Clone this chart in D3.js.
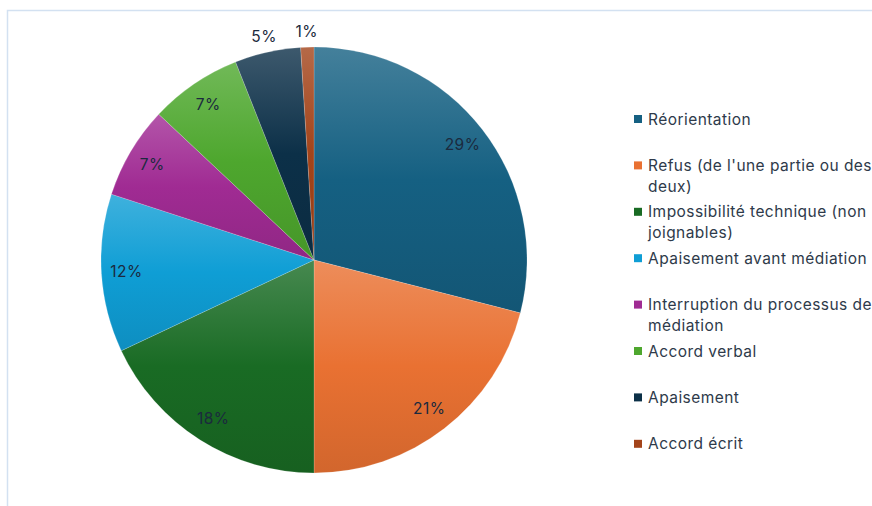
<!DOCTYPE html>
<meta charset="utf-8">
<style>
body { margin: 0; background: #fff; font-family: 'Inter', sans-serif; }
</style>
<body>
<svg class="piechart"></svg>
<script src="https://d3js.org/d3.v7.min.js"></script>
<script>
// canvas size
let rwidth = 872, rheight = 506;

// categories and shares (%)
let categories = ['Réorientation',
                  "Refus (de l'une partie ou des\ndeux)",
                  'Impossibilité technique (non\njoignables)',
                  'Apaisement avant médiation',
                  'Interruption du processus de\nmédiation',
                  'Accord verbal',
                  'Apaisement',
                  'Accord écrit'];
let shares = [29, 21, 18, 12, 7, 7, 5, 1];
let colorCode = ['#156082','#E97132','#196B24','#0F9ED5','#A02B93','#4EA72E','#0c3048','#a3441a'];

let cx = 314, cy = 260, radius = 213;

let svg = d3.select('.piechart')
            .attr('width', rwidth)
            .attr('height', rheight);

// chart frame (light blue border, partly off screen)
svg.append('rect')
   .attr('x', 7.5).attr('y', 10.5)
   .attr('width', 1000).attr('height', 1000)
   .attr('fill', 'none')
   .attr('stroke', '#d3e1f1')
   .attr('stroke-width', 1.5);

let data = categories.map((c, i) => ({name: c, value: shares[i]}));
let color = d3.scaleOrdinal().domain(categories).range(colorCode);

// vertical gradient per slice, lighter at top
let defs = svg.append('defs');
data.forEach((d, i) => {
    let base = color(d.name);
    let g = defs.append('linearGradient')
        .attr('id', 'grad' + i)
        .attr('x1', 0).attr('y1', 0).attr('x2', 0).attr('y2', 1);
    g.append('stop').attr('offset', '0%').attr('stop-color', d3.interpolateRgb(base, '#fff')(0.2));
    g.append('stop').attr('offset', '50%').attr('stop-color', base);
    g.append('stop').attr('offset', '100%').attr('stop-color', d3.interpolateRgb(base, '#000')(0.1));
});

let pie = d3.pie().sort(null).value(d => d.value);
let arc = d3.arc().innerRadius(0).outerRadius(radius);
let inLabel = d3.arc().innerRadius(188).outerRadius(188);
let outLabel = d3.arc().innerRadius(229).outerRadius(229);

let arcs = pie(data);

let g = svg.append('g').attr('transform', `translate(${cx},${cy})`);

g.selectAll('path.slice')
 .data(arcs)
 .join('path')
 .attr('class', 'slice')
 .attr('d', arc)
 .attr('fill', (d, i) => `url(#grad${i})`)
 .attr('stroke', 'rgba(255,255,255,0.35)')
 .attr('stroke-width', 0.5);

// percentage labels, small slices outside
g.selectAll('text.pct')
 .data(arcs)
 .join('text')
 .attr('class', 'pct')
 .attr('transform', d => `translate(${(d.data.value < 6 ? outLabel : inLabel).centroid(d)})`)
 .attr('text-anchor', 'middle')
 .attr('dy', '0.35em')
 .style('font-size', '15.5px')
 .style('letter-spacing', '0.5px')
 .style('fill', '#1b2a3e')
 .text(d => d.data.value + '%');

// legend
let legend = svg.append('g').attr('transform', 'translate(634,120)');
let rowStep = 46.4;

let item = legend.selectAll('g.item')
 .data(data)
 .join('g')
 .attr('class', 'item')
 .attr('transform', (d, i) => `translate(0,${i * rowStep})`);

item.append('rect')
    .attr('x', 0).attr('y', -5)
    .attr('width', 8).attr('height', 8)
    .attr('fill', d => color(d.name));

item.append('text')
    .attr('x', 14)
    .style('font-size', '15.5px')
    .style('letter-spacing', '0.45px')
    .style('fill', '#2e3a4a')
    .selectAll('tspan')
    .data(d => d.name.split('\n'))
    .join('tspan')
    .attr('x', 14)
    .attr('dy', (t, j) => j === 0 ? '0.3em' : '21px')
    .text(t => t);
</script>
</body>
